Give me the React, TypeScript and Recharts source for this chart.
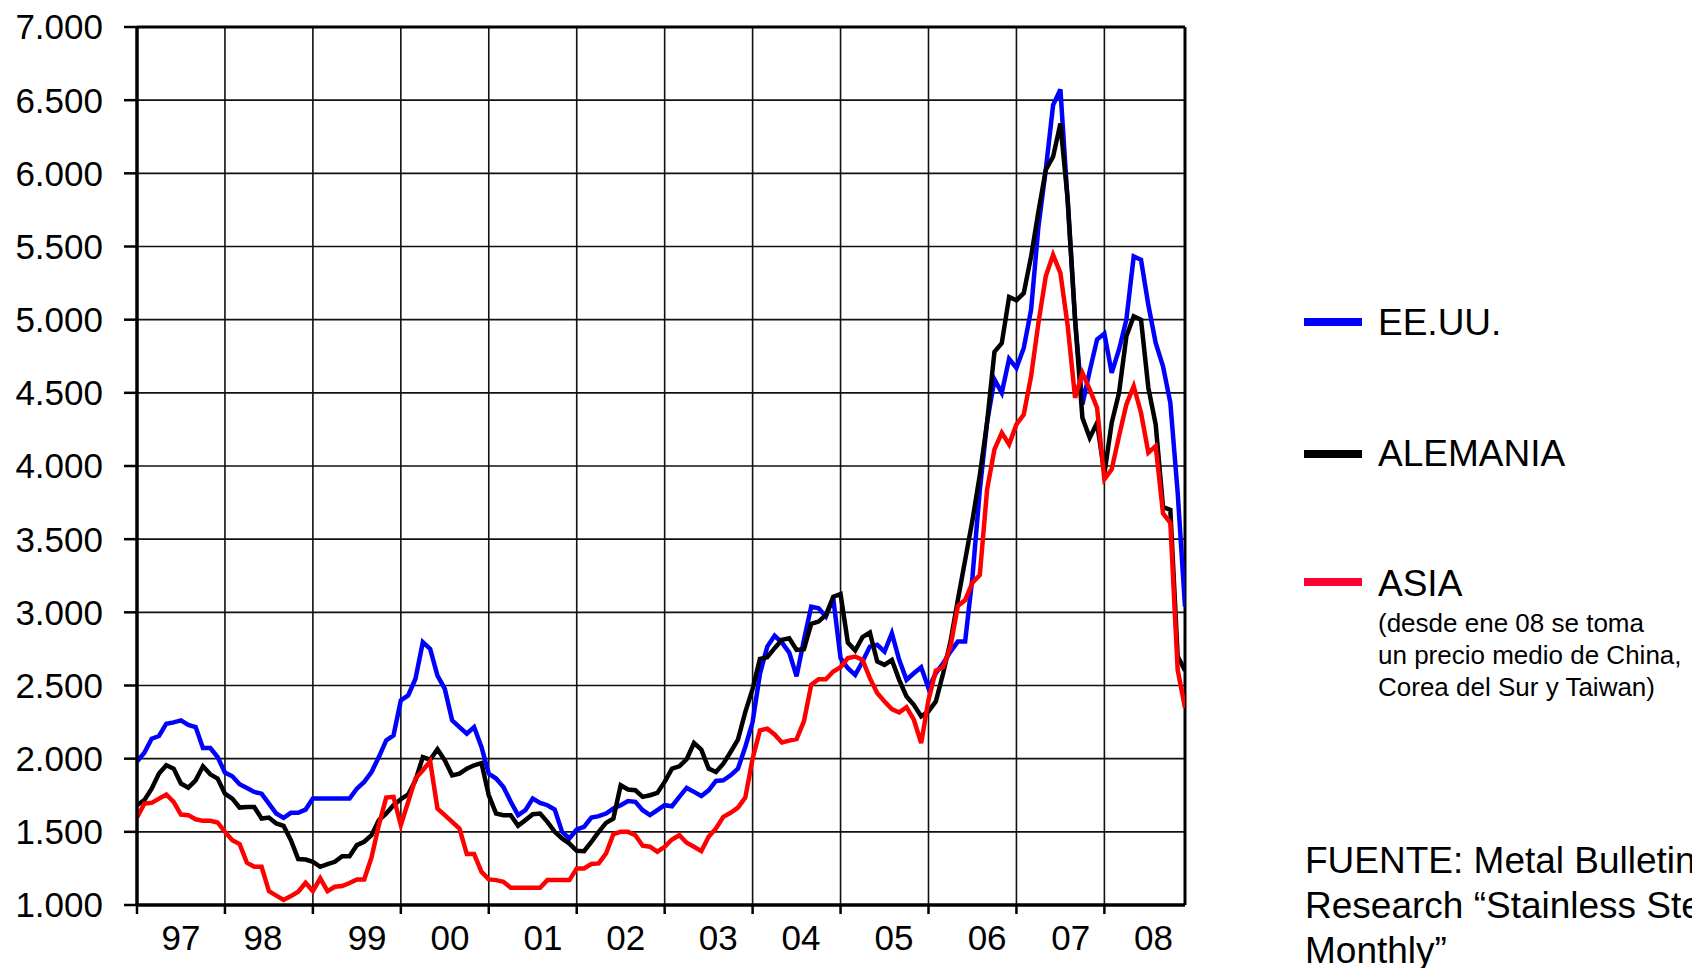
import React from "react";
import {
  LineChart,
  Line,
  XAxis,
  YAxis,
  CartesianGrid,
  ReferenceLine,
} from "recharts";

// Monthly prices, Jan 1997 .. Dec 2008 (one row per year)

const eeuu: number[] = [
  1980, 2040, 2136, 2155, 2239, 2248, 2262, 2230, 2216, 2073, 2073, 2011,
  1905, 1880, 1825, 1800, 1773, 1761, 1693, 1625, 1595, 1630, 1630, 1652,
  1727, 1727, 1727, 1727, 1727, 1727, 1795, 1841, 1909, 2011, 2125, 2159,
  2398, 2432, 2546, 2796, 2750, 2568, 2477, 2262, 2216, 2171, 2216, 2080,
  1898, 1864, 1807, 1705, 1614, 1648, 1727, 1698, 1682, 1652, 1500, 1455,
  1516, 1534, 1598, 1607, 1625, 1659, 1682, 1711, 1705, 1648, 1614, 1648,
  1682, 1675, 1739, 1800, 1773, 1745, 1784, 1848, 1852, 1886, 1932, 2080,
  2250, 2580, 2766, 2840, 2793, 2725, 2562, 2811, 3039, 3028, 2971, 3096,
  2687, 2618, 2573, 2664, 2766, 2778, 2732, 2857, 2675, 2539, 2584, 2625,
  2482, 2584, 2652, 2732, 2800, 2800, 3243, 3834, 4300, 4591, 4500, 4732,
  4670, 4807, 5068, 5636, 6023, 6466, 6573, 5800, 5000, 4420, 4650, 4864,
  4905, 4636, 4796, 5000, 5432, 5409, 5100, 4841, 4682, 4432, 3818, 3040,
];

const alemania: number[] = [
  1682, 1716, 1795, 1898, 1955, 1932, 1830, 1802, 1852, 1948, 1893, 1864,
  1761, 1727, 1666, 1670, 1670, 1591, 1598, 1557, 1541, 1443, 1314, 1311,
  1295, 1261, 1280, 1295, 1334, 1334, 1409, 1432, 1477, 1580, 1625, 1682,
  1723, 1755, 1852, 2011, 1993, 2064, 1989, 1886, 1898, 1932, 1955, 1970,
  1750, 1625, 1614, 1614, 1541, 1580, 1620, 1625, 1568, 1500, 1455, 1420,
  1370, 1368, 1432, 1500, 1561, 1591, 1818, 1789, 1784, 1739, 1750, 1766,
  1841, 1932, 1948, 1996, 2107, 2062, 1932, 1909, 1966, 2046, 2130, 2318,
  2477, 2682, 2693, 2755, 2812, 2823, 2743, 2748, 2921, 2937, 2982, 3107,
  3125, 2793, 2739, 2830, 2862, 2664, 2641, 2675, 2539, 2425, 2368, 2289,
  2323, 2391, 2584, 2800, 3084, 3357, 3630, 3937, 4300, 4780, 4840, 5155,
  5132, 5182, 5432, 5739, 6023, 6114, 6341, 5818, 5000, 4330, 4193, 4295,
  3950, 4295, 4500, 4886, 5023, 5000, 4534, 4284, 3720, 3700, 2700, 2600,
];

const asia: number[] = [
  1598, 1693, 1698, 1727, 1755, 1705, 1618, 1614, 1586, 1575, 1575, 1564,
  1500, 1443, 1416, 1289, 1261, 1261, 1095, 1064, 1034, 1061, 1091, 1152,
  1095, 1182, 1095, 1125, 1130, 1150, 1175, 1175, 1325, 1546, 1734, 1739,
  1546, 1705, 1864, 1921, 1982, 1659, 1614, 1568, 1523, 1348, 1348, 1227,
  1175, 1170, 1159, 1118, 1118, 1118, 1118, 1118, 1170, 1170, 1170, 1170,
  1250, 1250, 1280, 1284, 1352, 1484, 1500, 1500, 1477, 1405, 1398, 1364,
  1398, 1448, 1477, 1425, 1398, 1368, 1466, 1523, 1602, 1630, 1666, 1734,
  2000, 2193, 2205, 2166, 2111, 2123, 2134, 2255, 2505, 2543, 2543, 2596,
  2625, 2687, 2698, 2675, 2550, 2448, 2391, 2339, 2316, 2352, 2266, 2107,
  2402, 2602, 2625, 2766, 3043, 3084, 3203, 3255, 3840, 4114, 4227, 4148,
  4284, 4352, 4614, 4977, 5296, 5443, 5318, 4955, 4466, 4636, 4523, 4398,
  3909, 3977, 4205, 4420, 4545, 4364, 4091, 4136, 3677, 3611, 2606, 2347,
];

// x axis: tick marks at each January, labels placed loosely inside the year
const yearStarts: number[] = [0, 12, 24, 36, 48, 60, 72, 84, 96, 108, 120, 132];
const yearLabels: string[] = ["97", "98", "99", "00", "01", "02", "03", "04", "05", "06", "07", "08"];
const yearLabelPos: number[] = [6.0, 17.2, 31.4, 42.7, 55.4, 66.7, 79.3, 90.6, 103.3, 116.0, 127.4, 138.7];

const yTicks: number[] = [1000, 1500, 2000, 2500, 3000, 3500, 4000, 4500, 5000, 5500, 6000, 6500, 7000];

const series = [
  { key: "eeuu", name: "EE.UU.", color: "#0000ff", swatch: "#0000ff" },
  { key: "alemania", name: "ALEMANIA", color: "#000000", swatch: "#000000" },
  { key: "asia", name: "ASIA", color: "#ff0000", swatch: "#ff0033" },
];

const asiaNote: string[] = [
  "(desde ene 08 se toma",
  "un precio medio de China,",
  "Corea del Sur y Taiwan)",
];

const sourceLines: string[] = [
  "FUENTE: Metal Bulletin",
  "Research \u201cStainless Steel",
  "Monthly\u201d",
];

const FONT = "'Liberation Sans', Arial, Helvetica, sans-serif";

const fmtThousands = (v: number) =>
  String(v).replace(/\B(?=(\d{3})+(?!\d))/g, ".");

const data = eeuu.map((v, i) => ({
  m: i,
  eeuu: v,
  alemania: alemania[i],
  asia: asia[i],
}));

function LegendBlock() {
  const swatchY = [322, 454, 582];
  const textY = [335, 466, 596];
  return (
    <svg
      width={1692}
      height={968}
      style={{ position: "absolute", left: 0, top: 0, pointerEvents: "none" }}
    >
      {series.map((s, i) => (
        <g key={s.key}>
          <line
            x1={1304}
            x2={1362}
            y1={swatchY[i]}
            y2={swatchY[i]}
            stroke={s.swatch}
            strokeWidth={8}
          />
          <text x={1378} y={textY[i]} fontSize={37} fill="#000">
            {s.name}
          </text>
        </g>
      ))}
      {asiaNote.map((t, i) => (
        <text key={t} x={1378} y={632 + i * 32} fontSize={26} fill="#000">
          {t}
        </text>
      ))}
      {sourceLines.map((t, i) => (
        <text key={t} x={1305} y={873 + i * 45} fontSize={37} fill="#000">
          {t}
        </text>
      ))}
    </svg>
  );
}

export default function App() {
  return (
    <div
      style={{
        position: "absolute",
        left: 0,
        top: 0,
        width: 1692,
        height: 968,
        overflow: "hidden",
        background: "#fff",
        fontFamily: FONT,
      }}
    >
      <LineChart
        width={1692}
        height={968}
        data={data}
        margin={{ top: 27, right: 507, bottom: 0, left: 0 }}
      >
        <CartesianGrid xAxisId="a" stroke="#111" strokeWidth={1.6} />
        <XAxis
          xAxisId="a"
          dataKey="m"
          type="number"
          domain={[0, 143]}
          ticks={yearStarts}
          interval={0}
          height={10}
          tickSize={9}
          tickLine={{ stroke: "#000", strokeWidth: 2.5 }}
          axisLine={{ stroke: "#000", strokeWidth: 3.5 }}
          tick={() => <g />}
          allowDataOverflow
        />
        <XAxis
          xAxisId="b"
          dataKey="m"
          type="number"
          domain={[0, 143]}
          ticks={yearLabelPos}
          interval={0}
          height={53}
          tickSize={0}
          tickMargin={10}
          tickLine={false}
          axisLine={false}
          tickFormatter={(_v: number, idx: number) => yearLabels[idx]}
          tick={{ fontSize: 35, fill: "#000" }}
          allowDataOverflow
        />
        <YAxis
          type="number"
          domain={[1000, 7000]}
          ticks={yTicks}
          interval={0}
          width={137}
          tickSize={13}
          tickMargin={21}
          tickLine={{ stroke: "#000", strokeWidth: 2.5 }}
          axisLine={{ stroke: "#000", strokeWidth: 3.5 }}
          tickFormatter={fmtThousands}
          tick={{ fontSize: 35, fill: "#000" }}
          allowDataOverflow
        />
        <ReferenceLine y={7000} xAxisId="a" stroke="#000" strokeWidth={3} />
        <ReferenceLine x={143} xAxisId="a" stroke="#000" strokeWidth={3} />
        {series.map((s) => (
          <Line
            key={s.key}
            xAxisId="a"
            type="linear"
            dataKey={s.key}
            name={s.name}
            stroke={s.color}
            strokeWidth={4.5}
            dot={false}
            activeDot={false}
            isAnimationActive={false}
          />
        ))}
      </LineChart>
      <LegendBlock />
    </div>
  );
}
